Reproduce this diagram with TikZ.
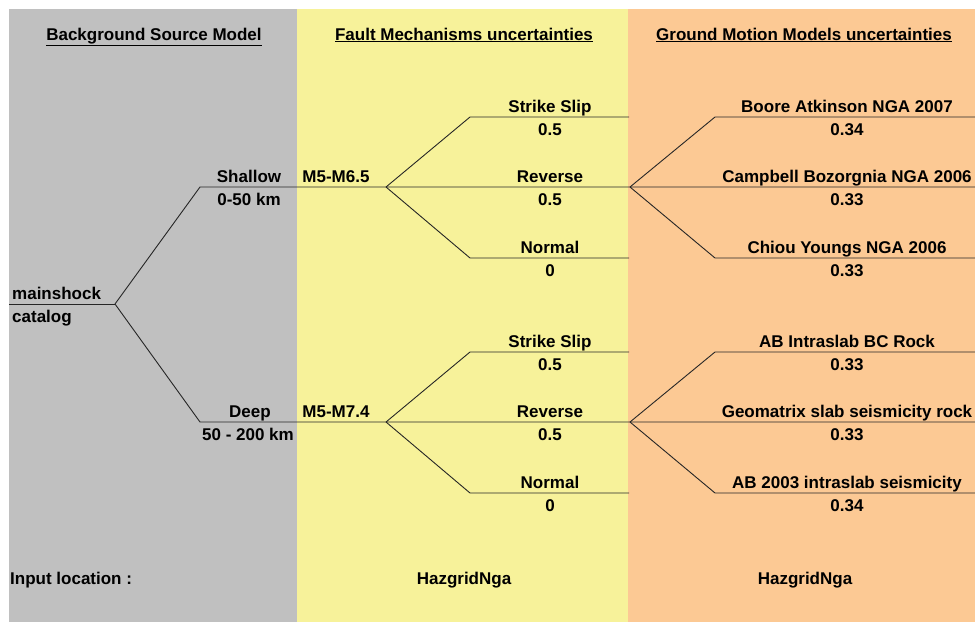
\documentclass[tikz,border=0pt]{standalone}
\usepackage{fontspec}
\setmainfont{Liberation Sans}
\definecolor{bggray}{HTML}{C0C0C0}
\definecolor{bgyellow}{HTML}{F7F29A}
\definecolor{bgorange}{HTML}{FCC994}
\begin{document}
\begin{tikzpicture}[x=1pt,y=-1pt,
  lbl/.style={inner sep=0pt,anchor=base,font=\fontsize{17}{20}\selectfont\bfseries},
  lbll/.style={lbl,anchor=base west},
  branch/.style={draw=black!85,line width=0.9pt}]
\useasboundingbox (0,0) rectangle (975,622);
% backgrounds
\fill[white] (0,0) rectangle (975,622);
\fill[bggray] (9,9) rectangle (297,622);
\fill[bgyellow] (297,9) rectangle (628,622);
\fill[bgorange] (628,9) rectangle (975,622);
% titles
\node[lbl] (t1) at (154,40) {\underline{Background Source Model}};
\node[lbl] (t2) at (464,40) {\underline{Fault Mechanisms uncertainties}};
\node[lbl] (t3) at (804,40) {\underline{Ground Motion Models uncertainties}};
% coordinates
\coordinate (m0) at (9,304);
\coordinate (mj) at (115,304);
\coordinate (s0) at (200,187);
\coordinate (sj) at (386,187);
\coordinate (d0) at (200,422);
\coordinate (dj) at (386,422);
% upper fault fan
\coordinate (ssA) at (470,117); \coordinate (ssAe) at (629,117);
\coordinate (nmA) at (470,258); \coordinate (nmAe) at (629,258);
\coordinate (gA) at (630,187);
\coordinate (baA) at (715,117); \coordinate (baAe) at (975,117);
\coordinate (cbAe) at (975,187);
\coordinate (cyA) at (715,258); \coordinate (cyAe) at (975,258);
% lower fault fan
\coordinate (ssB) at (470,352); \coordinate (ssBe) at (629,352);
\coordinate (nmB) at (470,493); \coordinate (nmBe) at (629,493);
\coordinate (gB) at (630,422);
\coordinate (abB) at (715,352); \coordinate (abBe) at (975,352);
\coordinate (gmBe) at (975,422);
\coordinate (ab3B) at (715,493); \coordinate (ab3Be) at (975,493);
% connectors
\draw[branch] (m0) -- (mj);
\draw[branch] (mj) -- (s0) -- (sj) -- (gA) -- (cbAe);
\draw[branch] (mj) -- (d0) -- (dj) -- (gB) -- (gmBe);
\draw[branch] (sj) -- (ssA) -- (ssAe);
\draw[branch] (sj) -- (nmA) -- (nmAe);
\draw[branch] (gA) -- (baA) -- (baAe);
\draw[branch] (gA) -- (cyA) -- (cyAe);
\draw[branch] (dj) -- (ssB) -- (ssBe);
\draw[branch] (dj) -- (nmB) -- (nmBe);
\draw[branch] (gB) -- (abB) -- (abBe);
\draw[branch] (gB) -- (ab3B) -- (ab3Be);
% left labels
\node[lbll] (ms) at (12,299) {mainshock};
\node[lbll] (cat) at (12,322) {catalog};
\node[lbl] (sh) at (249,182) {Shallow};
\node[lbl] (shk) at (249,205) {0-50 km};
\node[lbl] (dp) at (250,417) {Deep};
\node[lbl] (dpk) at (248,440) {50 - 200 km};
\node[lbl] (mA) at (336,182) {M5-M6.5};
\node[lbl] (mB) at (336,417) {M5-M7.4};
% fault labels upper
\node[lbl] (l1) at (550,112) {Strike Slip};
\node[lbl] (p1) at (550,135) {0.5};
\node[lbl] (l2) at (550,182) {Reverse};
\node[lbl] (p2) at (550,205) {0.5};
\node[lbl] (l3) at (550,253) {Normal};
\node[lbl] (p3) at (550,276) {0};
% fault labels lower
\node[lbl] (l4) at (550,347) {Strike Slip};
\node[lbl] (p4) at (550,370) {0.5};
\node[lbl] (l5) at (550,417) {Reverse};
\node[lbl] (p5) at (550,440) {0.5};
\node[lbl] (l6) at (550,488) {Normal};
\node[lbl] (p6) at (550,511) {0};
% GMM labels upper
\node[lbl] (g1) at (847,112) {Boore Atkinson NGA 2007};
\node[lbl] (q1) at (847,135) {0.34};
\node[lbl] (g2) at (847,182) {Campbell Bozorgnia NGA 2006};
\node[lbl] (q2) at (847,205) {0.33};
\node[lbl] (g3) at (847,253) {Chiou Youngs NGA 2006};
\node[lbl] (q3) at (847,276) {0.33};
% GMM labels lower
\node[lbl] (g4) at (847,347) {AB Intraslab BC Rock};
\node[lbl] (q4) at (847,370) {0.33};
\node[lbl] (g5) at (847,417) {Geomatrix slab seismicity rock};
\node[lbl] (q5) at (847,440) {0.33};
\node[lbl] (g6) at (847,488) {AB 2003 intraslab seismicity};
\node[lbl] (q6) at (847,511) {0.34};
% bottom
\node[lbll] (in) at (10,584) {Input location :};
\node[lbl] (h1) at (464,584) {HazgridNga};
\node[lbl] (h2) at (805,584) {HazgridNga};
\end{tikzpicture}
\end{document}
